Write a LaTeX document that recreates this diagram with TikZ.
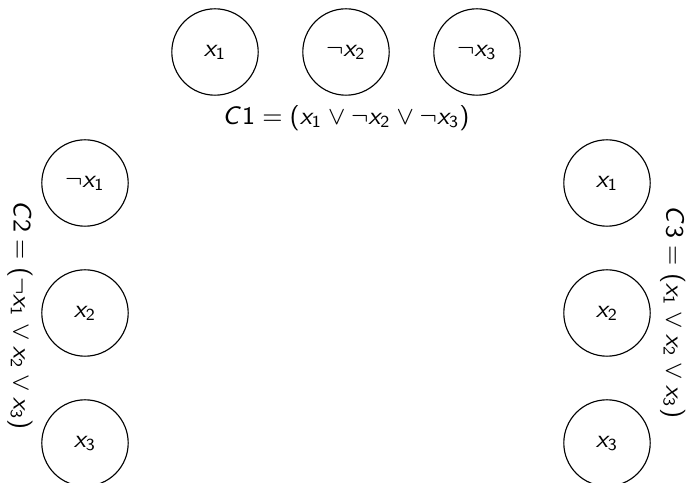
\documentclass[tikz,border=0pt]{standalone}
\usepackage{amsmath,amssymb}
\usepackage{tikz}
\usetikzlibrary{positioning}
% sans serif math, as in slides
\SetSymbolFont{operators}{normal}{OT1}{cmss}{m}{n}
\SetSymbolFont{letters}{normal}{OT1}{cmss}{m}{sl}
\renewcommand{\familydefault}{\sfdefault}

\begin{document}
\begin{tikzpicture}[font=\fontsize{9}{11}\selectfont,
    lit/.style={circle,draw,minimum size=1.08cm,inner sep=0pt}]
  \useasboundingbox (0,0) rectangle (8.6,-6.0375);
  % clause 1 on top
  \foreach \x/\lab/\nm in {2.6875/{$x_1$}/ta,
                           4.325/{$\neg x_2$}/tb,
                           5.9625/{$\neg x_3$}/tc}{
     \node[lit] (\nm) at (\x,-0.65) {\lab};
  }
  \node (cone) at (4.325,-1.475) {$C1 = (x_1 \vee \neg x_2 \vee \neg x_3)$};
  % clause 2 on the left, clause 3 on the right
  \foreach \y/\lab/\nm in {-2.2875/{$\neg x_1$}/la,
                           -3.9125/{$x_2$}/lb,
                           -5.5375/{$x_3$}/lc}{
     \node[lit] (\nm) at (1.0625,\y) {\lab};
  }
  \foreach \y/\lab/\nm in {-2.2875/{$x_1$}/ra,
                           -3.9125/{$x_2$}/rb,
                           -5.5375/{$x_3$}/rc}{
     \node[lit] (\nm) at (7.5875,\y) {\lab};
  }
  \node[rotate=-90] (ctwo) at (0.25,-3.9375) {$C2 = (\neg x_1 \vee x_2 \vee x_3)$};
  \node[rotate=-90] (cthree) at (8.41,-3.9) {$C3 = (x_1 \vee x_2 \vee x_3)$};
\end{tikzpicture}
\end{document}
